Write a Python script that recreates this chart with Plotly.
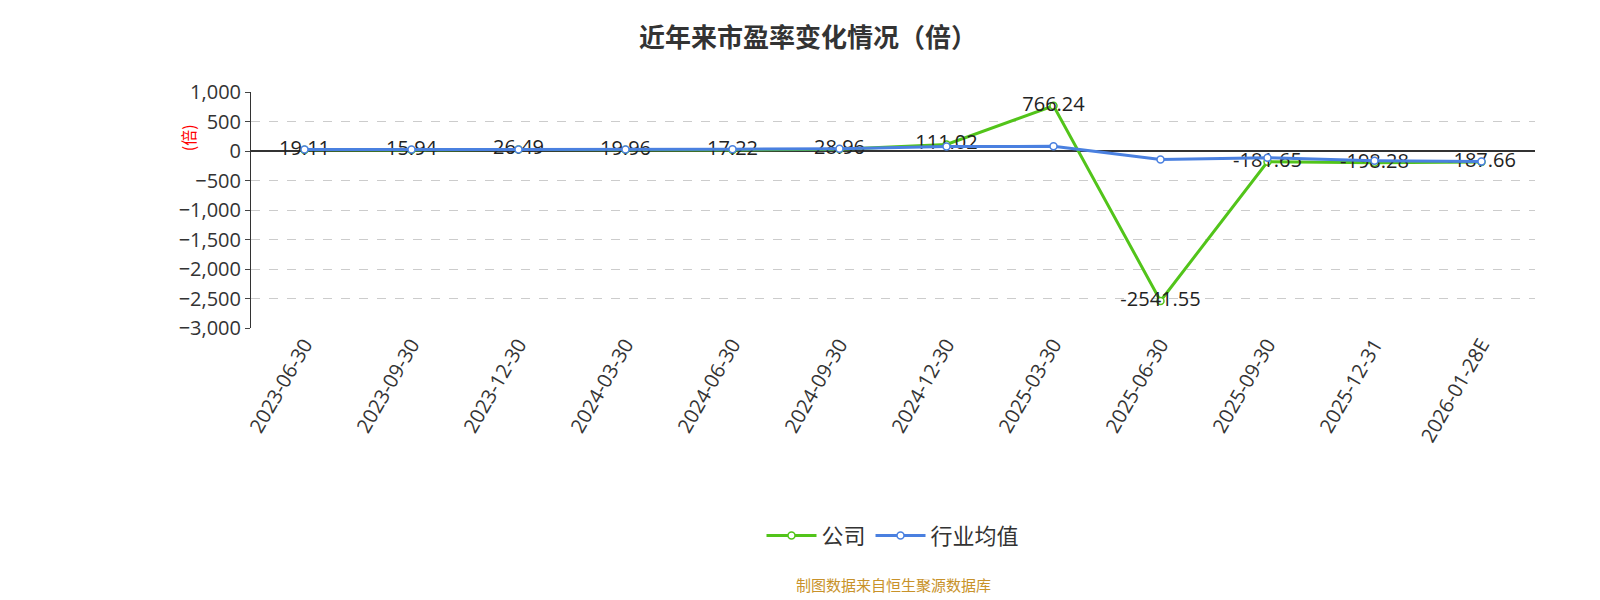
import plotly.graph_objects as go

dates = ["2023-06-30","2023-09-30","2023-12-30","2024-03-30","2024-06-30","2024-09-30",
         "2024-12-30","2025-03-30","2025-06-30","2025-09-30","2025-12-31","2026-01-28E"]
company = [19.11,15.94,26.49,19.96,17.22,28.96,111.02,766.24,-2541.55,-181.65,-198.28,-187.66]
industry = [25,25,25,25,30,40,75,80,-145,-115,-165,-180]
labels = ["19.11","15.94","26.49","19.96","17.22","28.96","111.02","766.24","-2541.55","-181.65","-198.28","-187.66"]

font = "Open Sans, Noto Sans CJK SC"
fig = go.Figure()
fig.add_trace(go.Scatter(x=dates, y=company, name="公司", mode="lines+markers+text",
    line=dict(color="#52c41a", width=3), marker=dict(size=7, color="white", line=dict(color="#52c41a", width=1.5)),
    text=labels, textposition="middle center", textfont=dict(size=20, color="#222")))
fig.add_trace(go.Scatter(x=dates, y=industry, name="行业均值", mode="lines+markers",
    line=dict(color="#4a80e0", width=3), marker=dict(size=7, color="white", line=dict(color="#4a80e0", width=1.5))))
fig.update_layout(
    width=1600, height=600, paper_bgcolor="white", plot_bgcolor="white",
    margin=dict(l=243, r=73, t=84, b=280),
    font=dict(family=font, size=20, color="#333"),
    title=dict(text="<b>近年来市盈率变化情况（倍）</b>", x=0.5, y=0.965, xanchor="center", font=dict(size=26, color="#333", family="Noto Sans CJK SC")),
    xaxis=dict(type="category", range=[-0.5, 11.5], tickangle=-60, showgrid=False, ticks="", tickfont=dict(size=20)),
    yaxis=dict(range=[-3000, 1000], dtick=500, tickformat=",", gridcolor="#ccc", griddash="dash",
               showline=True, linecolor="#333", zeroline=True, zerolinecolor="#333", zerolinewidth=2,
               ticks="outside", ticklen=5, tickfont=dict(size=20)),
    legend=dict(orientation="h", x=0.5, xanchor="center", y=-0.88, yanchor="middle", font=dict(size=22, family="Noto Sans CJK SC"),
                itemwidth=50),
    showlegend=True,
)
fig.add_annotation(text="(倍)", textangle=-90, x=-0.049, xref="paper", xanchor="center", y=0.87, yref="paper",
                   showarrow=False, font=dict(color="red", size=16, family="Noto Sans CJK SC"))
fig.add_annotation(text="制图数据来自恒生聚源数据库", x=0.5, xref="paper", y=-1.14, yref="paper",
                   showarrow=False, font=dict(color="#c8922a", size=15, family="Noto Sans CJK SC"))
fig.write_html("out.html")
